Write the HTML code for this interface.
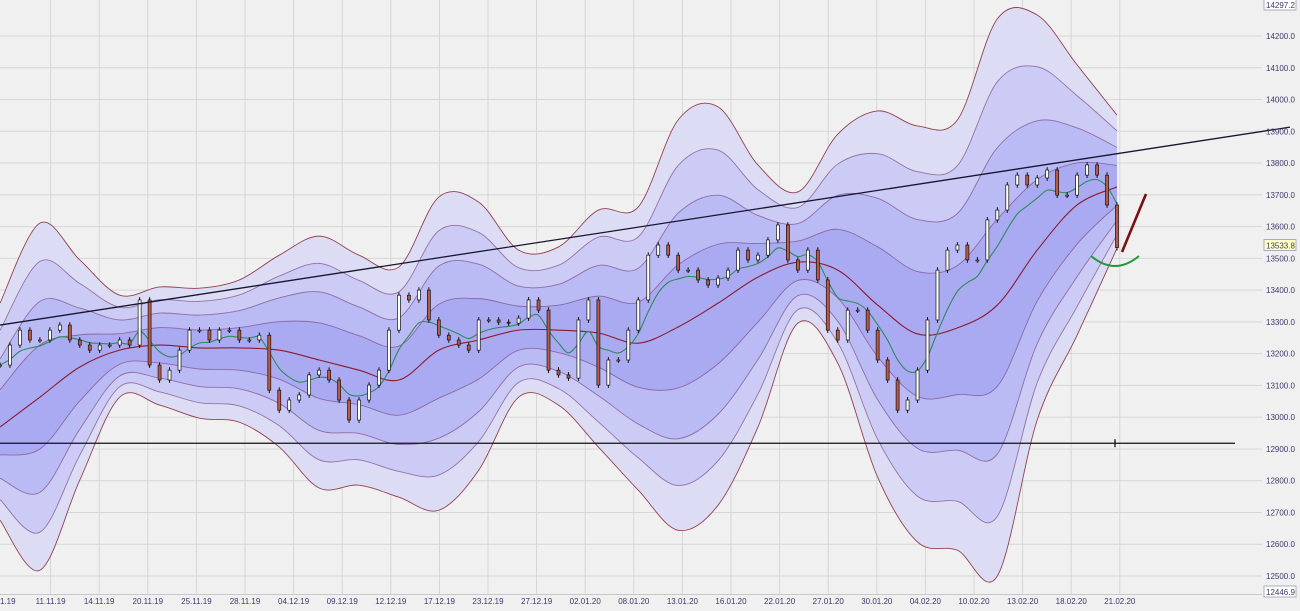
<!DOCTYPE html>
<html><head><meta charset="utf-8">
<style>
html,body{margin:0;padding:0;background:#f0f0f0;}
svg{display:block;font-family:"Liberation Sans",sans-serif;}
</style></head>
<body>
<svg id="chart" width="1300" height="611" viewBox="0 0 1300 611" xmlns="http://www.w3.org/2000/svg">
<rect x="0" y="0" width="1300" height="611" fill="#f0f0f0"/>
<g id="grid"></g>
<g id="bands"></g>
<g id="lines"></g>
<g id="candles"></g>
<g id="draw"></g>
<g id="axes"></g>
</svg>
<script>
// ---- data ----
const yTicks = [14200,14100,14000,13900,13800,13700,13600,13500,13400,13300,13200,13100,13000,12900,12800,12700,12600,12500];
const dateLabels = ["1.19","11.11.19","14.11.19","20.11.19","25.11.19","28.11.19","04.12.19","09.12.19","12.12.19","17.12.19","23.12.19","27.12.19","02.01.20","08.01.20","13.01.20","16.01.20","22.01.20","27.01.20","30.01.20","04.02.20","10.02.20","13.02.20","18.02.20","21.02.20"];
const bandUpper = [13359,13611,13495,13384,13410,13406,13432,13510,13570,13510,13473,13693,13677,13526,13536,13652,13662,13936,13977,13794,13709,13891,13964,13917,13936,14254,14266,14109,13951];
const bandLower = [12676,12518,12802,13063,13038,12997,12984,12906,12777,12786,12748,12707,12833,13063,13038,12906,12770,12644,12723,12969,13296,13170,12811,12607,12581,12500,12991,13258,13532];
const bandMid = [12969,13063,13158,13211,13227,13218,13218,13211,13180,13148,13117,13211,13243,13274,13274,13265,13233,13284,13359,13441,13488,13463,13353,13262,13281,13353,13526,13668,13725];
const closes = [13164,13227,13274,13243,13243,13274,13290,13243,13227,13211,13227,13227,13243,13227,13369,13164,13117,13148,13211,13274,13274,13243,13274,13274,13243,13243,13258,13085,13022,13054,13070,13133,13148,13117,13054,12991,13054,13101,13148,13274,13384,13369,13400,13306,13258,13243,13227,13211,13306,13306,13299,13296,13312,13369,13337,13148,13133,13123,13306,13369,13101,13180,13180,13274,13369,13510,13542,13510,13463,13463,13432,13416,13438,13463,13526,13495,13510,13558,13605,13495,13463,13526,13432,13274,13243,13337,13337,13274,13180,13117,13022,13054,13148,13306,13463,13526,13542,13495,13495,13621,13652,13731,13762,13731,13753,13778,13699,13699,13762,13794,13762,13668,13534];
const supportLevel = 12918;
const trendStart = 13290, trendEnd = 13913;
const lastPrice = 13533.8, axisMax = 14297.2, axisMin = 12446.9;

// ---- scales ----
const PX0 = 0, PX1 = 1117;
function yS(p){ return 36 + (14200 - p) * 0.317647; }
function xBand(i){ return PX0 + i * (PX1 - PX0) / (bandMid.length - 1); }
function xC(i){ return PX0 + i * (PX1 - PX0) / (closes.length - 1); }
const NS = "http://www.w3.org/2000/svg";
function mk(tag, attrs, parent){ const e = document.createElementNS(NS, tag); for (const k in attrs) e.setAttribute(k, attrs[k]); parent.appendChild(e); return e; }

const grid = document.getElementById('grid');
const axes = document.getElementById('axes');
yTicks.forEach(v => {
  const y = yS(v);
  const l = mk('line', {x1:0, x2:1262, y1:y, y2:y, stroke:'#d6d6d6', 'stroke-width':1}, grid);
  
  
  const t = mk('text', {x:1266, y:y+3, 'font-size':8, fill:'#3a3a6a'}, axes);
  t.textContent = v.toFixed(1);
  
  
});
dateLabels.forEach((d, i) => {
  const x = 2 + i * 48.6;
  if (i > 0) {
    const l = mk('line', {x1:x, x2:x, y1:0, y2:594, stroke:'#d6d6d6', 'stroke-width':1}, grid);
    
    
  }
  const t = mk('text', {x: i === 0 ? 0 : x, y:604, 'font-size':8, fill:'#3a3a6a', 'text-anchor': i === 0 ? 'start' : 'middle'}, axes);
  t.textContent = d;
  
  
});
const bl = mk('line', {x1:0, x2:1262, y1:594.5, y2:594.5, stroke:'#c8c8c8'}, grid);



// ---- bands ----
const bands = document.getElementById('bands');
const fracs = [1.0, 0.78, 0.55, 0.3];
const fills = ['#dcdcf5', '#cbcbf5', '#babaf5', '#aaaaf3'];
function bandPts(f, upper){
  return bandMid.map((m, i) => {
    const o = upper ? bandUpper[i] : bandLower[i];
    return [xBand(i), yS(m + (o - m) * f)];
  });
}
function smoothPath(pts){
  let d = 'M' + pts[0][0] + ',' + pts[0][1];
  for (let i = 0; i < pts.length - 1; i++) {
    const p0 = pts[Math.max(0, i-1)], p1 = pts[i], p2 = pts[i+1], p3 = pts[Math.min(pts.length-1, i+2)];
    const c1x = p1[0] + (p2[0]-p0[0])/6, c1y = p1[1] + (p2[1]-p0[1])/6;
    const c2x = p2[0] - (p3[0]-p1[0])/6, c2y = p2[1] - (p3[1]-p1[1])/6;
    d += ' C' + c1x + ',' + c1y + ' ' + c2x + ',' + c2y + ' ' + p2[0] + ',' + p2[1];
  }
  return d;
}
fracs.forEach((f, k) => {
  const up = bandPts(f, true), lo = bandPts(f, false).reverse();
  const d = smoothPath(up) + ' L' + smoothPath(lo).slice(1) + ' Z';
  const p = mk('path', {d: d, fill: fills[k], stroke: 'none'}, bands);
  
  
  [true, false].forEach(u => {
    const ln = mk('path', {d: smoothPath(bandPts(f, u)), fill:'none', stroke: k === 0 ? '#8a3040' : '#7a4a80', 'stroke-width': 0.9, 'stroke-opacity': k === 0 ? 0.9 : 0.7}, bands);
    
    
  });
});
const lines = document.getElementById('lines');
const midPath = mk('path', {d: smoothPath(bandMid.map((m, i) => [xBand(i), yS(m)])), fill:'none', stroke:'#8b1a2a', 'stroke-width':1.1}, lines);


const ema = []; let e = closes[0];
closes.forEach(c => { e = e + (c - e) * 0.28; ema.push(e); });
const emaPath = mk('path', {d: smoothPath(ema.map((v, i) => [xC(i), yS(v)])), fill:'none', stroke:'#2e8b57', 'stroke-width':1.1}, lines);



// ---- candles ----
const cg = document.getElementById('candles');
closes.forEach((c, i) => {
  const o = i === 0 ? c : closes[i-1];
  const x = xC(i);
  const hi = Math.max(o, c) + 9, lo = Math.min(o, c) - 9;
  const w = mk('line', {x1:x, x2:x, y1:yS(hi), y2:yS(lo), stroke:'#111', 'stroke-width':1}, cg);
  
  
  const top = yS(Math.max(o, c)), bot = yS(Math.min(o, c));
  const r = mk('rect', {x:x-1.5, y:top, width:3, height:Math.max(1, bot-top), fill: c >= o ? '#ffffff' : '#b85a48', stroke:'#111', 'stroke-width':0.7}, cg);
  
  
});

// ---- drawings ----
const dg = document.getElementById('draw');
const tl = mk('line', {x1:0, y1:yS(trendStart), x2:1290, y2:yS(trendEnd), stroke:'#151530', 'stroke-width':1.3}, dg);


const sl = mk('line', {x1:0, y1:yS(supportLevel), x2:1235, y2:yS(supportLevel), stroke:'#111', 'stroke-width':1.3}, dg);


const tk = mk('line', {x1:1115, y1:yS(supportLevel)-4, x2:1115, y2:yS(supportLevel)+4, stroke:'#111', 'stroke-width':1.3}, dg);


const ra = mk('line', {x1:1122, y1:252, x2:1146, y2:194, stroke:'#7a0f14', 'stroke-width':2.6}, dg);


const ga = mk('path', {d:'M1091,256 Q1115,276 1139,256', fill:'none', stroke:'#1e9a3a', 'stroke-width':2}, dg);



function box(val, y, bg, name){
  const g = mk('g', {}, axes);
  
  
  mk('rect', {x:1264, y:y-6, width:32, height:11, fill:bg, stroke:'#9a9ab0', 'stroke-width':0.8}, g);
  const t = mk('text', {x:1266, y:y+3, 'font-size':8, fill:'#3a3a6a'}, g);
  t.textContent = val.toFixed(1);
}
box(axisMax, 5, '#ffffff', 'axis-max-label');
box(lastPrice, yS(lastPrice) - 2, '#ffffc8', 'last-price-label');
box(axisMin, 592, '#ffffff', 'axis-min-label');
</script>
</body></html>
